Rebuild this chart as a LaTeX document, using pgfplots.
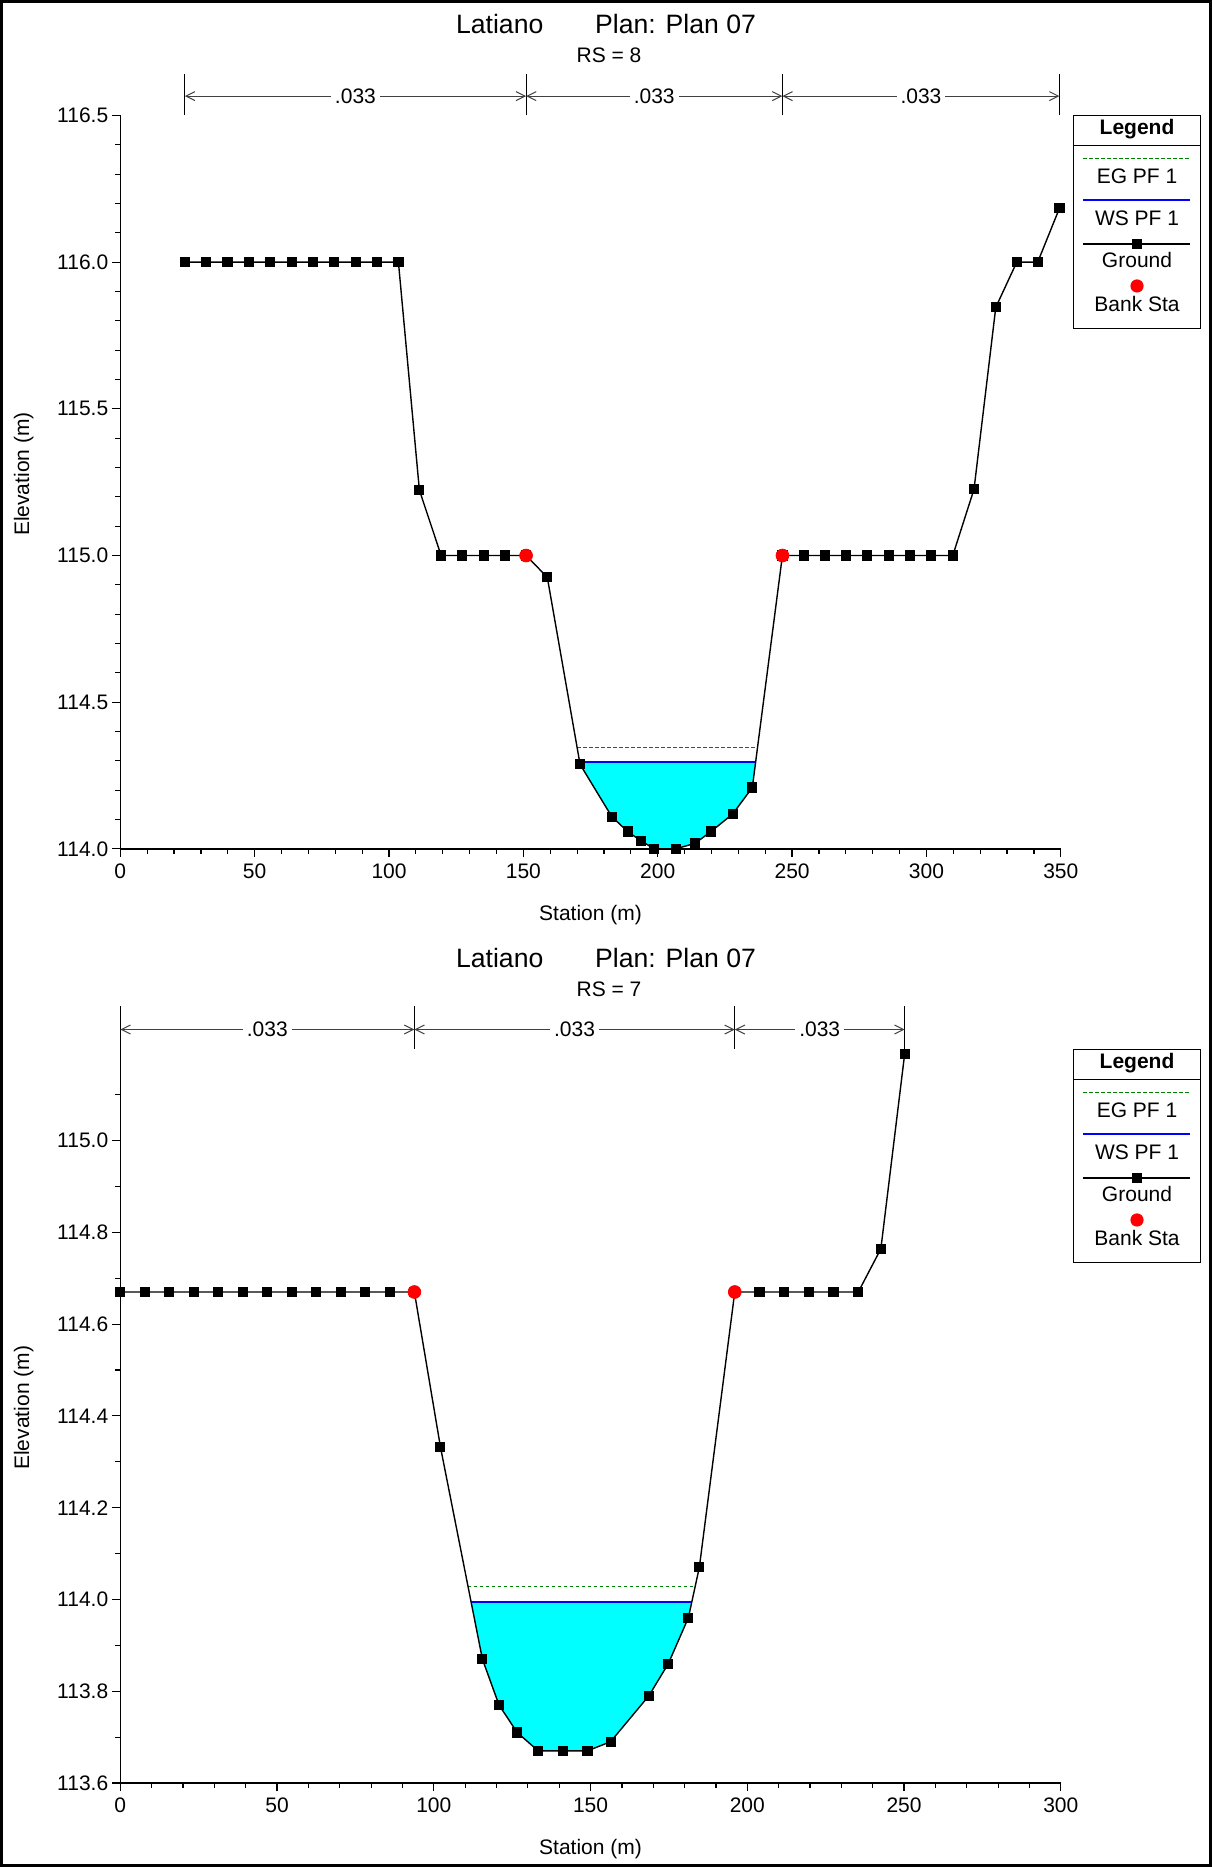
\documentclass[border=0pt]{standalone}
\usepackage{pgfplots}
\pgfplotsset{compat=1.18}
\usepackage{fontspec}
\setmainfont{Liberation Sans}
\usetikzlibrary{arrows.meta}
\definecolor{egreen}{RGB}{0,128,0}
\definecolor{wsblue}{RGB}{0,0,255}
\definecolor{water}{RGB}{0,255,255}
\definecolor{bankred}{RGB}{255,0,0}
\newcommand\fs{\fontsize{10.5}{12.6}\selectfont}
\newcommand\fst{\fontsize{13.3}{16}\selectfont}

\tikzset{
  ground/.style={black, line width=0.7pt, mark=square*, mark size=2.2pt, mark options={solid, fill=black}},
  bankst/.style={only marks, mark=*, mark size=3.2pt, color=bankred, mark options={fill=bankred, draw=bankred}},
  eg/.style={egreen, line width=0.6pt, dash pattern=on 1.8pt off 1.2pt},
  ws/.style={wsblue, line width=1pt},
  waterfill/.style={fill=water, draw=none},
  dimv/.style={black, line width=0.5pt},
  dimh/.style={black!75, line width=0.5pt, {Straight Barb[length=4.5pt,width=4.5pt]}-{Straight Barb[length=4.5pt,width=4.5pt]}},
  dimlbl/.style={midway, fill=white, inner sep=2pt, text=black, font=\fs},
}

\pgfplotsset{
  hec/.style={
    scale only axis, width=470.25pt, clip=false, anchor=south west,
    axis lines*=left,
    axis line style={line width=0.7pt},
    tick align=outside, major tick length=4pt, minor tick length=2.5pt,
    every tick/.style={black, line width=0.6pt},
    xtick distance=50, minor x tick num=4, xmin=0,
    tick label style={font=\fs},
    /pgf/number format/assume math mode=true,
    yticklabel style={xshift=1.5pt, /pgf/number format/.cd, fixed, fixed zerofill, precision=1},
    xlabel={Station (m)}, ylabel={Elevation (m)},
    label style={font=\fs},
    xlabel style={at={(rel axis cs:0.5,-0.09)}, anchor=center},
    ylabel style={at={(rel axis cs:-0.1026,0.511)}, anchor=center},
  },
}

\newcommand\hecLegend[1]{%
\begin{scope}[yshift=#1]
\draw[line width=0.6pt] (536.65pt,769.15pt) rectangle (600.35pt,875.85pt);
\draw[line width=0.6pt] (536.65pt,860.85pt) -- (600.35pt,860.85pt);
\node[anchor=base, font=\bfseries\fs, inner sep=0pt] at (568.5pt,866.35pt) {Legend};
\draw[eg] (541.65pt,854.15pt) -- (595pt,854.15pt);
\node[anchor=base, font=\fs, inner sep=0pt] at (568.5pt,841.5pt) {EG PF 1};
\draw[ws] (541.65pt,833.5pt) -- (595pt,833.5pt);
\node[anchor=base, font=\fs, inner sep=0pt] at (568.5pt,820.5pt) {WS PF 1};
\draw[black, line width=0.7pt] (541.65pt,811.5pt) -- (595pt,811.5pt);
\fill[black] (566.2pt,809.2pt) rectangle (570.8pt,813.8pt);
\node[anchor=base, font=\fs, inner sep=0pt] at (568.5pt,799.85pt) {Ground};
\fill[bankred] (568.5pt,790.5pt) circle (3.3pt);
\node[anchor=base, font=\fs, inner sep=0pt] at (568.5pt,777.65pt) {Bank Sta};
\end{scope}}

\begin{document}
\begin{tikzpicture}
\useasboundingbox (0,0) rectangle (606pt,933.5pt);
\draw[line width=1.5pt] (0.75pt,0.75pt) rectangle (605.25pt,932.75pt);

% ---------- RS = 8 ----------
\node[anchor=base, font=\fst, inner sep=0pt] at (303pt,916.85pt) {Latiano\hspace{1.95em}Plan: Plan 07};
\node[anchor=base, font=\fs, inner sep=0pt] at (304.5pt,902.2pt) {RS = 8};

\begin{axis}[hec, at={(60.15pt,509.05pt)}, height=366.7pt,
  xmax=350, ymin=114, ymax=116.5,
  ytick={114,114.5,115,115.5,116,116.5}, minor y tick num=4]
\addplot[waterfill] coordinates {
 (171.0,114.295) (171.1,114.288) (182.9,114.11) (188.8,114.06) (193.7,114.03)
 (198.7,114.0) (206.7,114.0) (213.9,114.02) (219.8,114.06) (227.9,114.12)
 (235.2,114.21) (236.4,114.295)} -- cycle;
\addplot[eg] coordinates {(170.0,114.345) (237.1,114.345)};
\addplot[ws] coordinates {(171.0,114.295) (236.4,114.295)};
\addplot[ground] coordinates {
 (24.0,116.0) (31.95,116.0) (39.9,116.0) (47.85,116.0) (55.8,116.0) (63.75,116.0)
 (71.7,116.0) (79.65,116.0) (87.6,116.0) (95.55,116.0) (103.5,116.0)
 (111.3,115.223) (119.4,115.0) (127.3,115.0) (135.2,115.0) (143.2,115.0) (151.0,115.0)
 (158.9,114.926) (171.1,114.288) (182.9,114.11) (188.8,114.059) (193.7,114.028)
 (198.7,114.0) (206.7,114.0) (213.9,114.019) (219.8,114.059) (227.9,114.119)
 (235.2,114.209) (246.4,115.0) (254.3,115.0) (262.2,115.0) (270.1,115.0)
 (278.0,115.0) (286.0,115.0) (293.9,115.0) (301.8,115.0) (309.8,115.0)
 (317.7,115.226) (325.8,115.846) (333.6,116.0) (341.4,116.0) (349.5,116.184)};
\addplot[bankst] coordinates {(151.0,115.0) (246.4,115.0)};
% roughness dimension lines
\draw[dimv] (axis cs:24.0,116.5) -- (axis cs:24.0,116.642);
\draw[dimv] (axis cs:151.0,116.5) -- (axis cs:151.0,116.642);
\draw[dimv] (axis cs:246.4,116.5) -- (axis cs:246.4,116.642);
\draw[dimv] (axis cs:349.5,116.5) -- (axis cs:349.5,116.642);
\draw[dimh] (axis cs:24.0,116.566) -- node[dimlbl]{.033} (axis cs:151.0,116.566);
\draw[dimh] (axis cs:151.0,116.566) -- node[dimlbl]{.033} (axis cs:246.4,116.566);
\draw[dimh] (axis cs:246.4,116.566) -- node[dimlbl]{.033} (axis cs:349.5,116.566);
\end{axis}
\hecLegend{0pt}

% ---------- RS = 7 ----------
\node[anchor=base, font=\fst, inner sep=0pt] at (303pt,449.85pt) {Latiano\hspace{1.95em}Plan: Plan 07};
\node[anchor=base, font=\fs, inner sep=0pt] at (304.5pt,435.15pt) {RS = 7};

\begin{axis}[hec, at={(60.15pt,42pt)}, height=367.1pt,
  xmax=300, ymin=113.6, ymax=115.2,
  ytick={113.6,113.8,114.0,114.2,114.4,114.6,114.8,115.0},
  minor ytick={113.7,113.9,114.1,114.3,114.5,114.7,114.9,115.1}]
\addplot[waterfill] coordinates {
 (111.9,113.994) (115.5,113.87) (120.8,113.77) (126.6,113.71) (133.3,113.67)
 (141.1,113.67) (149.0,113.67) (156.4,113.69) (168.6,113.79) (174.8,113.86)
 (181.2,113.96) (182.3,113.994)} -- cycle;
\addplot[eg] coordinates {(110.8,114.029) (183.3,114.029)};
\addplot[ws] coordinates {(111.9,113.994) (182.3,113.994)};
\addplot[ground] coordinates {
 (0,114.67) (7.82,114.67) (15.63,114.67) (23.45,114.67) (31.27,114.67) (39.08,114.67)
 (46.9,114.67) (54.72,114.67) (62.53,114.67) (70.35,114.67) (78.17,114.67) (85.98,114.67)
 (93.8,114.67) (102.1,114.333) (115.5,113.87) (120.8,113.77) (126.6,113.71)
 (133.3,113.67) (141.1,113.67) (149.0,113.67) (156.4,113.69) (168.6,113.79)
 (174.8,113.86) (181.2,113.96) (184.7,114.07) (196.0,114.67) (203.9,114.67)
 (211.8,114.67) (219.6,114.67) (227.5,114.67) (235.4,114.67) (242.6,114.764)
 (250.2,115.189)};
\addplot[bankst] coordinates {(93.8,114.67) (196.0,114.67)};
\draw[dimv] (axis cs:0,115.2) -- (axis cs:0,115.293);
\draw[dimv] (axis cs:93.8,115.2) -- (axis cs:93.8,115.293);
\draw[dimv] (axis cs:196.0,115.2) -- (axis cs:196.0,115.293);
\draw[dimv] (axis cs:250.2,115.2) -- (axis cs:250.2,115.293);
\draw[dimh] (axis cs:0,115.242) -- node[dimlbl]{.033} (axis cs:93.8,115.242);
\draw[dimh] (axis cs:93.8,115.242) -- node[dimlbl]{.033} (axis cs:196.0,115.242);
\draw[dimh] (axis cs:196.0,115.242) -- node[dimlbl]{.033} (axis cs:250.2,115.242);
\end{axis}
\hecLegend{-467pt}
\end{tikzpicture}
\end{document}
